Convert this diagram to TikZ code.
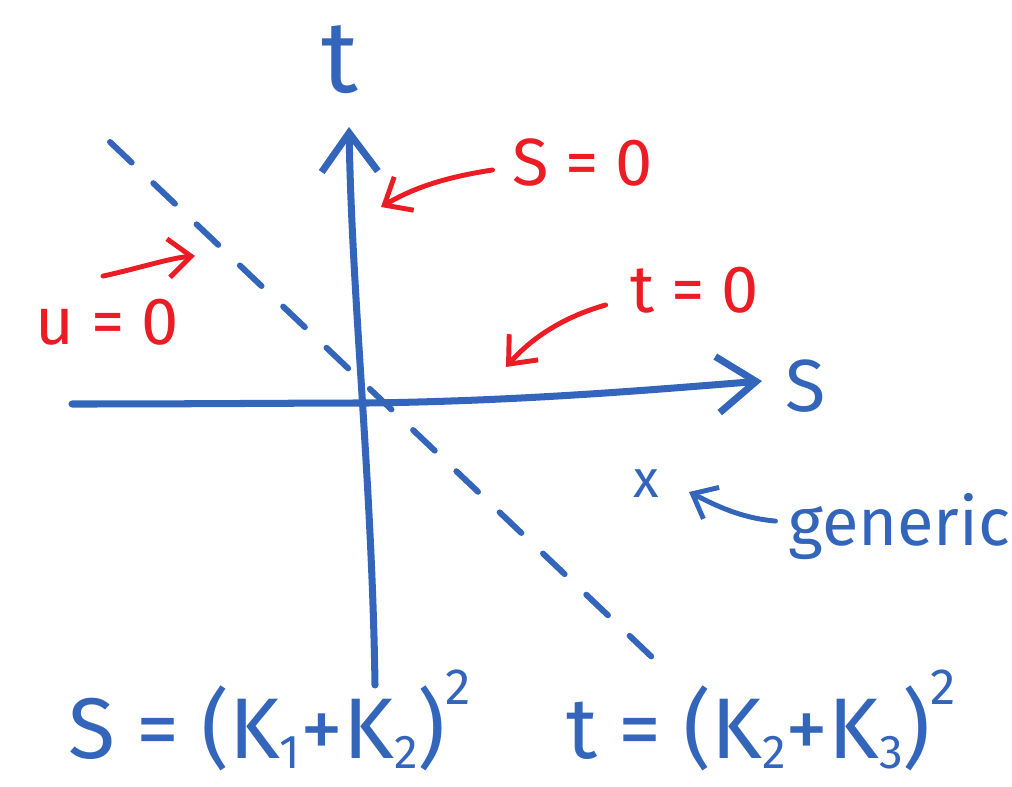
\documentclass[tikz,border=0pt]{standalone}
\usepackage{fontspec}
\setmainfont{Fira Sans}
\usetikzlibrary{arrows.meta,positioning}
\definecolor{penblue}{RGB}{51,102,187}
\definecolor{penred}{RGB}{236,28,36}
\newcommand{\lowidx}[1]{\raisebox{-0.12em}{\fontsize{27}{29}\selectfont #1}}
\newcommand{\highidx}[1]{\raisebox{0.62em}{\fontsize{29}{31}\selectfont #1}}
\newcommand{\eqsp}{\hspace{0.25em}=\hspace{0.25em}}
\tikzset{
  axisline/.style={penblue,line width=4pt,line cap=round,line join=round,
    -{Straight Barb[length=22pt,width=32pt,line width=4pt]}},
  cutline/.style={penblue,line width=3.4pt,line cap=round,dash pattern=on 17pt off 17pt},
  redarrow/.style={penred,line width=2.8pt,line cap=round,
    -{Straight Barb[length=13pt,width=22pt,line width=2.8pt]}},
  bluearrow/.style={penblue,line width=2.8pt,line cap=round,
    -{Straight Barb[length=12pt,width=20pt,line width=2.8pt]}},
  redlbl/.style={penred,inner sep=0pt,font=\fontsize{38}{40}\selectfont},
  bluelbl/.style={penblue,inner sep=0pt},
}
\begin{document}
\begin{tikzpicture}[x=0.02cm,y=-0.02cm]
\useasboundingbox (0,0) rectangle (1012,787);
%% axes
\coordinate (O) at (368,403);
\coordinate (sleft) at (72,404);
\coordinate (sright) at (762,381);
\coordinate (tbot) at (375,685);
\coordinate (ttop) at (349,127);
\draw[axisline] (sleft) .. controls (200,404) and (300,403) .. (O)
  .. controls (520,401) and (650,390) .. (sright);
\draw[axisline] (tbot) .. controls (372,480) and (352,300) .. (ttop);
\node[bluelbl,font=\fontsize{58}{60}\selectfont] (tlbl) at (340,60) {t};
\node[bluelbl,font=\fontsize{42}{44}\selectfont] (slbl) at (806,386) {S};
%% u = 0 line
\coordinate (ua) at (110,142);
\coordinate (ub) at (655,660);
\draw[cutline] (ua) -- (ub);
%% red labels
\node[redlbl] (s0) at (583,163) {S\eqsp 0};
\node[redlbl] (t0) at (695,290) {t\eqsp 0};
\node[redlbl] (u0) at (107,322) {u\eqsp 0};
\draw[redarrow] ([xshift=-0.4cm,yshift=-0.14cm]s0.west)
  .. controls (440,178) and (410,190) .. (381,207);
\draw[redarrow] ([xshift=-0.5cm,yshift=-0.3cm]t0.west)
  .. controls (560,318) and (530,340) .. (506,367);
\draw[redarrow] ([xshift=-0.08cm,yshift=0.45cm]u0.north)
  .. controls (140,268) and (170,258) .. (195,256);
%% generic point
\node[bluelbl,font=\fontsize{30}{32}\selectfont] (gx) at (646,484) {x};
\node[bluelbl,font=\fontsize{38}{40}\selectfont,anchor=base west] (gen) at (788,545) {generic};
\draw[bluearrow] ([xshift=-0.25cm,yshift=0.1cm]gen.west)
  .. controls (740,518) and (715,505) .. (689,492);
%% invariants
\node[bluelbl,font=\fontsize{49}{52}\selectfont,anchor=base west] (sdef) at (68,758)
  {S\eqsp(K\lowidx{1}+K\lowidx{2})\highidx{2}};
\node[bluelbl,font=\fontsize{49}{52}\selectfont,anchor=base west] (tdef) at (566,758)
  {t\eqsp(K\lowidx{2}+K\lowidx{3})\highidx{2}};
\end{tikzpicture}
\end{document}
